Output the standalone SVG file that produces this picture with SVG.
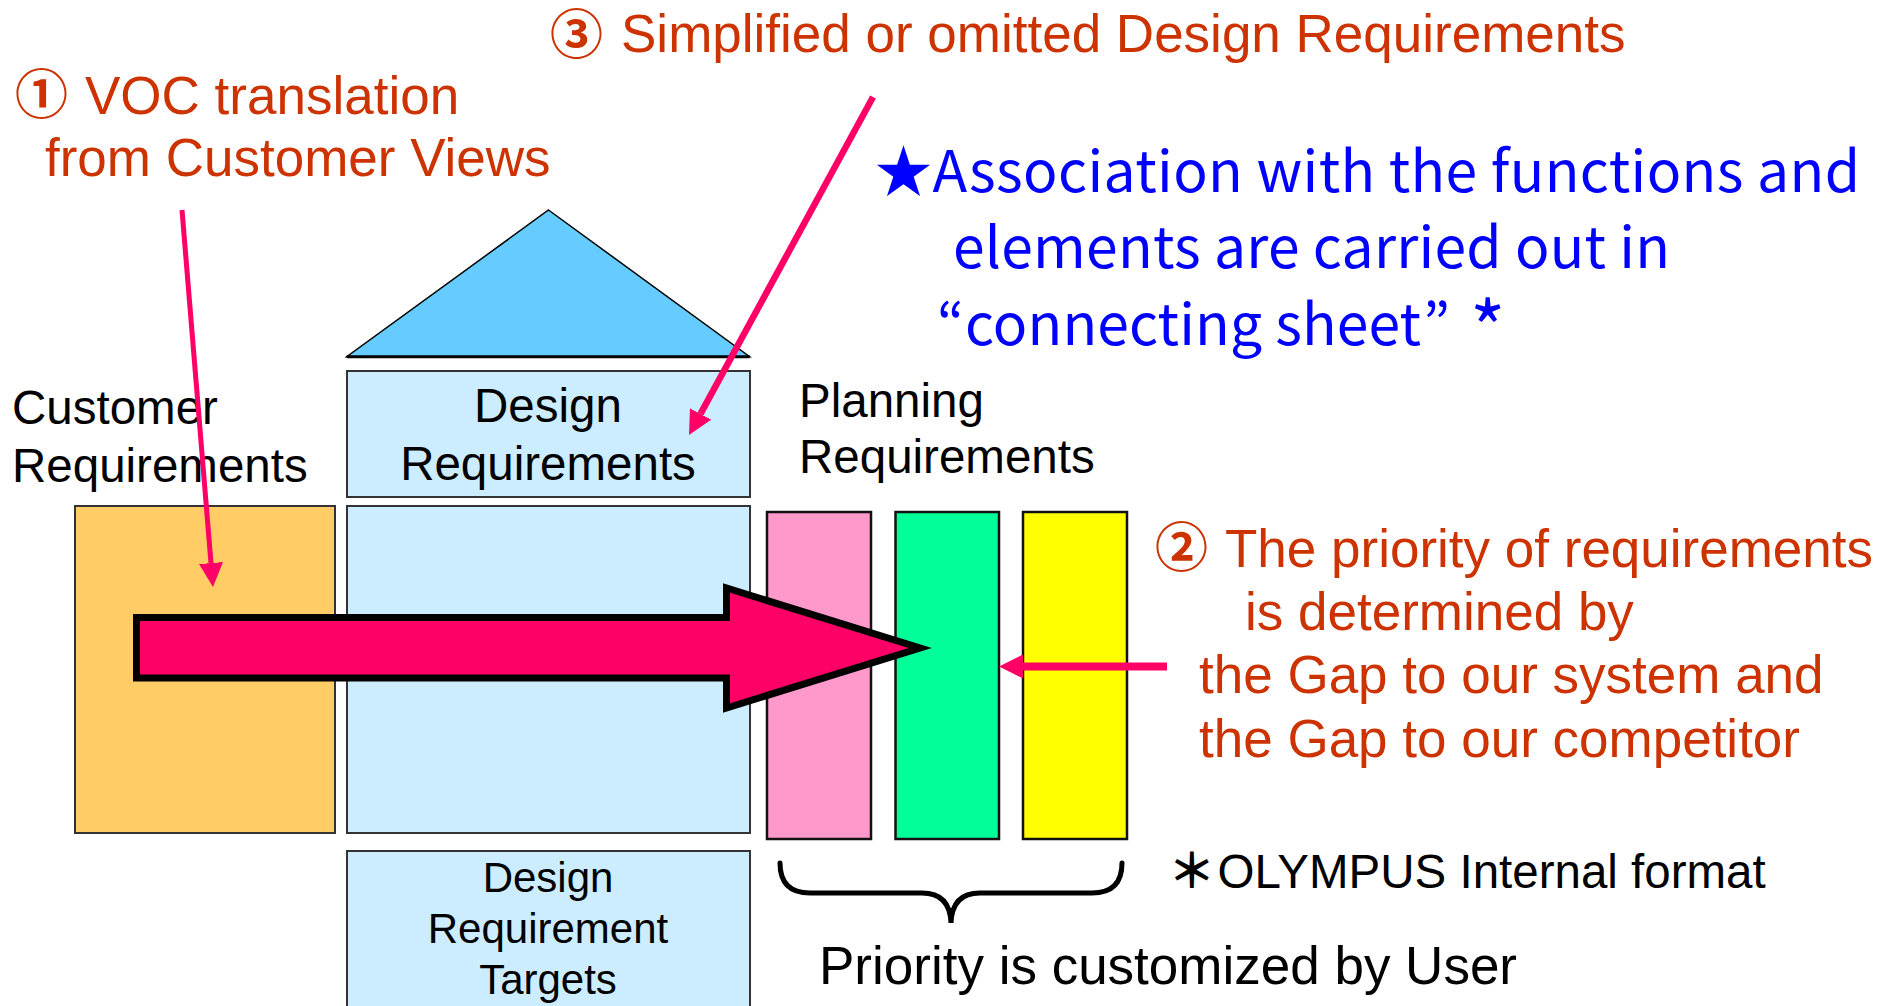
<svg xmlns="http://www.w3.org/2000/svg" width="1895" height="1006" viewBox="0 0 1895 1006">
<style>
.box{stroke:#333;stroke-width:2}
.bar{stroke:#111;stroke-width:2.5}
.lbl{font-family:"Liberation Sans",Arial,sans-serif;fill:#000;font-size:47.5px}
.lbl2{font-family:"Liberation Sans",Arial,sans-serif;fill:#000;font-size:42px;text-anchor:middle}
.org{font-family:"Liberation Sans",Arial,sans-serif;fill:#CC3300;font-size:53px}
.num{font-family:"Noto Sans CJK JP","DejaVu Sans",sans-serif;fill:#CC3300;font-size:53px;font-weight:bold}
.blue{font-family:"Noto Sans CJK JP","Noto Sans",sans-serif;fill:#0000FF;font-size:57px}
.pk{stroke:#FF0066;fill:none}
</style>
<defs>
<marker id="ah" viewBox="0 -12 24 24" refX="0" refY="0" markerWidth="24" markerHeight="24" markerUnits="userSpaceOnUse" orient="auto">
<path d="M0,-12 L24,0 L0,12 z" fill="#FF0066"/>
</marker>
</defs>
<rect width="1895" height="1006" fill="#fff"/>

<g id="node-customer">
<rect class="box" x="75" y="506" width="260" height="327" fill="#FFCC66"/>
<text class="lbl" x="12" y="424">Customer</text>
<text class="lbl" x="12" y="482">Requirements</text>
</g>

<g id="node-roof">
<polygon points="548.5,210 749.7,356.7 346.7,356.7" fill="#66CCFF" stroke="#000" stroke-width="1.5"/>
<line x1="346.7" y1="356.7" x2="749.7" y2="356.7" stroke="#000" stroke-width="3"/>
</g>

<g id="node-design-requirements">
<rect class="box" x="347" y="371" width="403" height="126" fill="#CCECFF"/>
<text class="lbl" x="548" y="421.7" text-anchor="middle">Design</text>
<text class="lbl" x="548" y="480" text-anchor="middle">Requirements</text>
</g>

<g id="node-matrix">
<rect class="box" x="347" y="506" width="403" height="327" fill="#CCECFF"/>
</g>

<g id="node-targets">
<rect class="box" x="347" y="851" width="403" height="170" fill="#CCECFF"/>
<text class="lbl2" x="548" y="892">Design</text>
<text class="lbl2" x="548" y="943">Requirement</text>
<text class="lbl2" x="548" y="994">Targets</text>
</g>

<g id="node-planning">
<text class="lbl" x="799" y="416.7">Planning</text>
<text class="lbl" x="799" y="473.3">Requirements</text>
<rect id="node-bar-pink" class="bar" x="767" y="512" width="104" height="327" fill="#FF99CC"/>
<rect id="node-bar-green" class="bar" x="895.5" y="512" width="103.5" height="327" fill="#00FF99"/>
<rect id="node-bar-yellow" class="bar" x="1023" y="512" width="104" height="327" fill="#FFFF00"/>
</g>

<g id="connectors">
<polygon points="136.5,617.5 726.5,617.5 726.5,588 920,648 726.5,708 726.5,678 136.5,678" fill="#FF0066" stroke="#000" stroke-width="7"/>
<line class="pk" x1="182" y1="210" x2="211" y2="563.1" style="stroke-width:5" marker-end="url(#ah)"/>
<line class="pk" x1="873" y1="97" x2="700.5" y2="413.9" style="stroke-width:6.5" marker-end="url(#ah)"/>
<line class="pk" x1="1167" y1="666.5" x2="1023" y2="666.5" style="stroke-width:8" marker-end="url(#ah)"/>
</g>

<g id="brace">
<path d="M780,863 Q780,893 810,893 L922,893 Q950,893 951,923 Q952,893 980,893 L1092,893 Q1122,893 1122,863" fill="none" stroke="#000" stroke-width="5" stroke-linecap="round"/>
<text class="lbl" x="819" y="984" style="font-size:53px">Priority is customized by User</text>
</g>

<g id="note-voc">
<text class="num" x="15" y="114">①</text>
<text class="org" x="85" y="114">VOC translation</text>
<text class="org" x="45" y="176">from Customer Views</text>
</g>

<g id="note-simplified">
<text class="num" x="550" y="54">③</text>
<text class="org" x="621" y="52">Simplified or omitted Design Requirements</text>
</g>

<g id="note-priority">
<text class="num" x="1155" y="567">②</text>
<text class="org" x="1225" y="567">The priority of requirements</text>
<text class="org" x="1245" y="629.5">is determined by</text>
<text class="org" x="1199" y="693">the Gap to our system and</text>
<text class="org" x="1199" y="757">the Gap to our competitor</text>
</g>

<g id="note-association">
<text class="blue" x="875" y="191.7" textLength="985">★Association with the functions and</text>
<text class="blue" x="953" y="268" textLength="717">elements are carried out in</text>
<text class="blue" x="937" y="345">“</text>
<text class="blue" x="965" y="345" textLength="456">connecting sheet</text>
<text class="blue" x="1423" y="345">”</text>
<text class="blue" x="1470" y="358" style="font-size:76px">*</text>
</g>

<g id="note-olympus">
<text class="lbl" x="1168" y="888" style="font-family:'Noto Sans CJK JP',sans-serif;font-weight:bold">＊</text>
<text class="lbl" x="1217.5" y="888">OLYMPUS Internal format</text>
</g>
</svg>
